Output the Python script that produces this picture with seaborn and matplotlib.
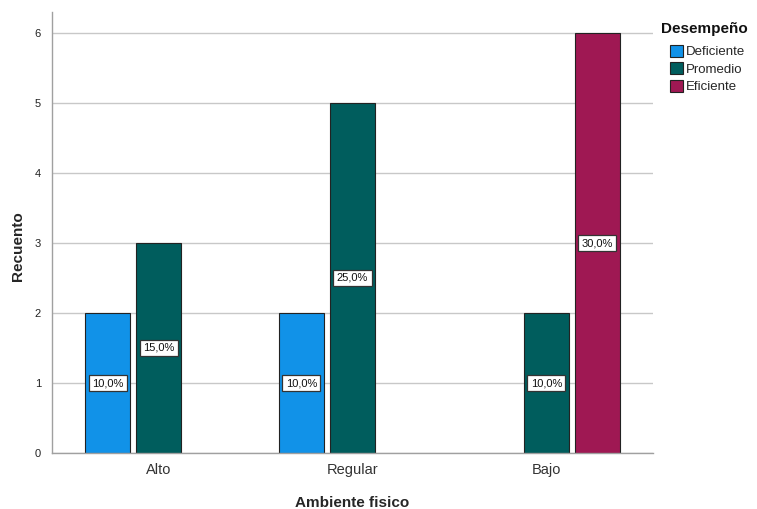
import matplotlib
matplotlib.use("Agg")
import matplotlib.pyplot as plt
import seaborn as sns
import pandas as pd

# Counts per physical-environment level and performance level
ambiente = ["Alto", "Alto", "Regular", "Regular", "Bajo", "Bajo"]
desempeno = ["Deficiente", "Promedio", "Deficiente", "Promedio", "Promedio", "Eficiente"]
recuento = [2, 3, 2, 5, 2, 6]

categorias = ["Alto", "Regular", "Bajo"]
niveles = ["Deficiente", "Promedio", "Eficiente"]
colores = ["#1192e8", "#005d5d", "#9f1853"]

df = pd.DataFrame({"Ambiente fisico": ambiente, "Desempeño": desempeno, "Recuento": recuento})
total = sum(recuento)

sns.set_theme(style="white")
plt.rcParams["font.family"] = ["Liberation Sans", "DejaVu Sans"]

fig = plt.figure(figsize=(7.57, 5.09), dpi=100)
ax = fig.add_axes([52 / 757, 56 / 509, (653 - 52) / 757, (453 - 12) / 509])

sns.barplot(
    data=df, x="Ambiente fisico", y="Recuento", hue="Desempeño",
    order=categorias, hue_order=niveles, palette=colores,
    width=0.79, gap=0.12, edgecolor="#222222", linewidth=0.8,
    saturation=1, ax=ax, legend=True,
)

ax.set_xlim(-0.55, 2.55)
ax.set_ylim(0, 6.3)
ax.set_yticks(range(0, 7))
ax.yaxis.grid(True, color="#c8c8c8", linewidth=1)
ax.set_axisbelow(True)
for s in ["top", "right"]:
    ax.spines[s].set_visible(False)
for s in ["left", "bottom"]:
    ax.spines[s].set_color("#a0a0a0")
    ax.spines[s].set_linewidth(1)

ax.tick_params(axis="y", labelsize=8, length=0, pad=8, labelcolor="#222222")
ax.tick_params(axis="x", labelsize=10.5, length=0, pad=7, labelcolor="#333333")
ax.set_ylabel("Recuento", fontsize=11, fontweight="bold", va="center")
ax.yaxis.set_label_coords(-0.0566, 0.47)
ax.set_xlabel("Ambiente fisico", fontsize=11, fontweight="bold", va="center")
ax.xaxis.set_label_coords(0.5, -0.113)

# Percentage labels at the middle of each bar
for cont in ax.containers:
    ax.bar_label(
        cont, label_type="center",
        fmt=lambda v: f"{v / total * 100:.1f}%".replace(".", ","),
        fontsize=8, color="#111111",
        bbox=dict(boxstyle="square,pad=0.3", facecolor="white", edgecolor="#333333", linewidth=0.9),
    )

# Legend: bold title placed separately, entries slightly indented below it
fig.text(661 / 757, 1 - 29 / 509, "Desempeño", fontsize=11, fontweight="bold",
         ha="left", va="center", color="#111111")
handles, labels = ax.get_legend_handles_labels()
leg = ax.legend(
    handles, labels, loc="upper left", bbox_to_anchor=(670 / 757, 1 - 45 / 509),
    bbox_transform=fig.transFigure, frameon=False, fontsize=9.5,
    handlelength=1.0, handleheight=1.0, handletextpad=0.2, labelspacing=0.3,
    borderaxespad=0, borderpad=0,
)
for h in leg.legend_handles:
    h.set_edgecolor("#222222")
    h.set_linewidth(0.8)

fig.savefig("out.png", dpi=100)
